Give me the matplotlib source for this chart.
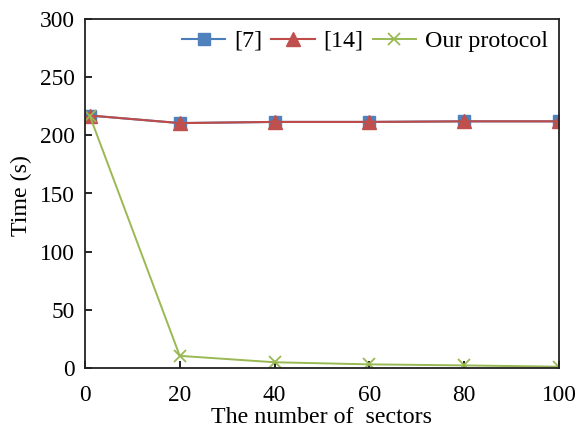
import matplotlib
matplotlib.use("Agg")
import matplotlib.pyplot as plt

plt.rcParams['font.family'] = ['Liberation Serif', 'DejaVu Serif']

sectors = [1, 20, 40, 60, 80, 100]
ref7 = [217, 210.5, 211.5, 211.5, 212, 212]
ref14 = [217, 210.5, 211.5, 211.5, 212, 212]
ours = [217, 10.5, 5, 3.2, 2.3, 1.2]

fig = plt.figure(figsize=(5.78, 4.30), dpi=100)
ax = fig.add_axes([0.147, 0.144, 0.820, 0.812])

ax.plot(sectors, ref7, color='#4A7EBB', lw=1.5, marker='s', ms=9,
        markerfacecolor='#4F81BD', markeredgecolor='#4F81BD', label='[7]')
ax.plot(sectors, ref14, color='#BE4B48', lw=1.5, marker='^', ms=10,
        markerfacecolor='#C0504D', markeredgecolor='#C0504D', label='[14]')
ax.plot(sectors, ours, color='#98B954', lw=1.4, marker='x', ms=9, mew=1.3,
        markeredgecolor='#98B954', label='Our protocol')

ax.set_xlim(0, 100)
ax.set_ylim(0, 300)
ax.set_xticks([0, 20, 40, 60, 80, 100])
ax.set_yticks([0, 50, 100, 150, 200, 250, 300])
ax.tick_params(direction='in', labelsize=16.8, length=5, width=1.2)
ax.tick_params(axis='x', pad=12)
ax.tick_params(axis='y', pad=7)
for s in ax.spines.values():
    s.set_linewidth(1.3)
    s.set_color('#222222')
ax.set_xlabel('The number of  sectors', fontsize=17.3)
ax.set_ylabel('Time (s)', fontsize=17.3)
ax.xaxis.set_label_coords(0.5, -0.112)
ax.yaxis.set_label_coords(-0.112, 0.494)

ax.legend(loc='center right', frameon=False, ncol=3, fontsize=17.3,
          handlelength=1.8, handletextpad=0.375, columnspacing=0.375,
          borderpad=0, borderaxespad=0,
          bbox_to_anchor=(548 / 578, (430 - 41) / 430),
          bbox_transform=fig.transFigure)

fig.savefig('out.png', dpi=100)
